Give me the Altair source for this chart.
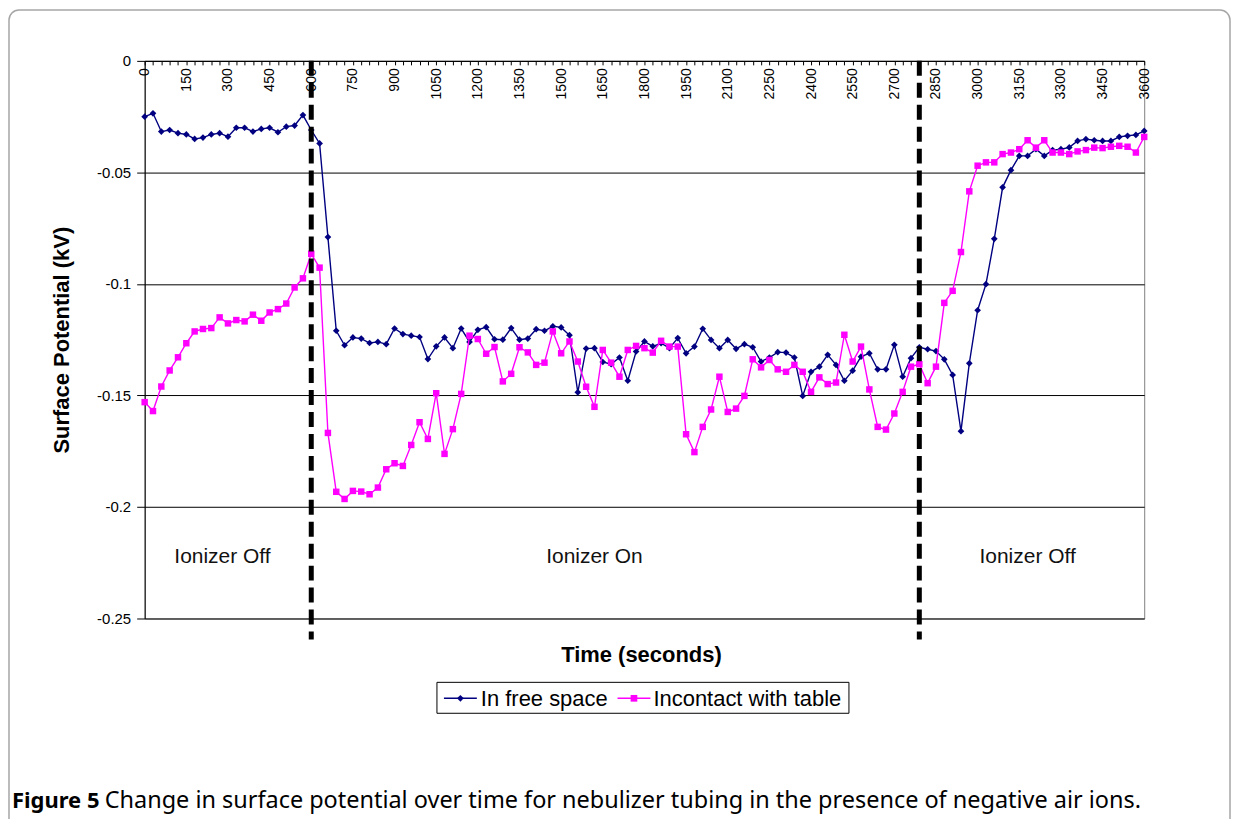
import altair as alt
import pandas as pd

# ---------------- data ----------------
times = list(range(0, 3601, 30))  # seconds (category positions every 30 s)

free_space = [
    -0.025, -0.0235, -0.0317, -0.031, -0.0324, -0.033, -0.035, -0.0344, -0.033, -0.0324,
    -0.034, -0.030, -0.030, -0.0317, -0.0305, -0.030, -0.032, -0.0295, -0.029, -0.0243,
    -0.031, -0.037, -0.079, -0.121, -0.1275, -0.124, -0.1245, -0.1265, -0.126, -0.127,
    -0.120, -0.1225, -0.1232, -0.1238, -0.1337, -0.128, -0.124, -0.1288, -0.120, -0.126,
    -0.1206, -0.1194, -0.1248, -0.125, -0.1198, -0.125, -0.1245, -0.1203, -0.121, -0.119,
    -0.1195, -0.123, -0.1486, -0.129, -0.1288, -0.135, -0.136, -0.133, -0.1434, -0.1303,
    -0.1258, -0.128, -0.1266, -0.1288, -0.1243, -0.1311, -0.1281, -0.1201, -0.1251, -0.1288,
    -0.1251, -0.1291, -0.127, -0.1284, -0.1348, -0.133, -0.1306, -0.1308, -0.133, -0.1502,
    -0.1394, -0.1371, -0.1318, -0.1363, -0.1434, -0.1389, -0.1326, -0.1311, -0.1383, -0.1383,
    -0.1273, -0.1416, -0.1333, -0.1284, -0.1293, -0.1301, -0.1338, -0.1408, -0.166, -0.1356,
    -0.1118, -0.1001, -0.0798, -0.0567, -0.049, -0.0426, -0.0426, -0.0396, -0.0426, -0.040,
    -0.0396, -0.0388, -0.0359, -0.0351, -0.0356, -0.0359, -0.0359, -0.0341, -0.0336, -0.0332,
    -0.0314,
]

contact_table = [
    -0.153, -0.157, -0.146, -0.1388, -0.1329, -0.1266, -0.1213, -0.1202, -0.1198, -0.115,
    -0.1177, -0.1162, -0.1168, -0.1138, -0.1165, -0.1128, -0.1113, -0.1088, -0.1016, -0.0975,
    -0.0865, -0.0927, -0.1668, -0.1932, -0.1964, -0.1928, -0.1931, -0.1943, -0.1913, -0.1831,
    -0.1804, -0.1816, -0.1722, -0.162, -0.1695, -0.149, -0.1762, -0.1651, -0.1493, -0.1232,
    -0.1247, -0.1313, -0.1283, -0.1437, -0.1403, -0.1284, -0.1307, -0.1363, -0.1353, -0.1213,
    -0.1311, -0.1258, -0.1348, -0.1461, -0.1551, -0.1296, -0.1353, -0.1416, -0.1296, -0.1278,
    -0.1288, -0.1308, -0.1255, -0.1281, -0.1281, -0.1674, -0.1754, -0.1641, -0.1563, -0.1416,
    -0.1574, -0.1559, -0.1502, -0.1338, -0.1374, -0.1341, -0.1383, -0.1394, -0.1363, -0.1394,
    -0.1484, -0.1419, -0.1449, -0.1442, -0.1228, -0.1348, -0.1281, -0.1473, -0.1641, -0.1653,
    -0.1581, -0.1484, -0.1371, -0.136, -0.1445, -0.1371, -0.1085, -0.1031, -0.0857, -0.0585,
    -0.047, -0.0455, -0.0455, -0.0418, -0.0411, -0.0396, -0.0356, -0.0389, -0.0356, -0.0411,
    -0.0411, -0.0418, -0.0406, -0.040, -0.0389, -0.0391, -0.0385, -0.0381, -0.0385, -0.0411,
    -0.0341,
]

series_names = ["In free space", "Incontact with table"]
series_colors = ["#000080", "#ff00ff"]
series_shapes = ["diamond", "square"]

ionizer_switch_times = [600, 2790]
region_labels = ["Ionizer Off", "Ionizer On", "Ionizer Off"]
region_label_t = [280, 1620, 3180]
region_label_v = [-0.2225, -0.2225, -0.2225]

y_ticks = [0, -0.05, -0.1, -0.15, -0.2, -0.25]
x_title = "Time (seconds)"
y_title = "Surface Potential (kV)"
caption_bold = "Figure 5"
caption_rest = "Change in surface potential over time for nebulizer tubing in the presence of negative air ions."

# ---------------- build ----------------
W, H = 1002, 559
FONT = "Liberation Sans"

df = pd.DataFrame({
    "t": times * 2,
    "v": free_space + contact_table,
    "series": [series_names[0]] * len(times) + [series_names[1]] * len(times),
})

x_scale = alt.Scale(domain=[0, 3600], nice=False, zero=False)
y_scale = alt.Scale(domain=[-0.25, 0], nice=False, zero=False)
color_scale = alt.Scale(domain=series_names, range=series_colors)
shape_scale = alt.Scale(domain=series_names, range=series_shapes)

x_axis = alt.Axis(
    orient="bottom", offset=-H, values=times, format="d",
    labelExpr="datum.value % 150 == 0 ? datum.label : ''",
    labelAngle=270, labelAlign="right", labelBaseline="middle",
    labelPadding=3, labelFont=FONT, labelFontSize=14, labelColor="black",
    labelOverlap=False, labelFlush=False, labelBound=False,
    tickSize=4, tickColor="black", domainColor="black", domainWidth=1,
    grid=False, title=None,
)
y_axis = alt.Axis(
    values=y_ticks,
    labelExpr="datum.value == 0 ? '0' : '-' + format(-datum.value, '~g')",
    labelFont=FONT, labelFontSize=15, labelColor="black", labelPadding=6,
    tickSize=8, tickColor="black", domainColor="black", domainWidth=1,
    grid=True, gridColor="black", gridWidth=1, gridOpacity=1,
    title=None,
)

X = alt.X("t:Q", scale=x_scale, axis=x_axis)
Y = alt.Y("v:Q", scale=y_scale, axis=y_axis)

base = alt.Chart(df).encode(
    x=X, y=Y,
    color=alt.Color("series:N", scale=color_scale, legend=None),
)

layers = []
for name, size in zip(series_names, [45, 42]):
    sub = base.transform_filter(alt.datum.series == name)
    layers.append(sub.mark_line(strokeWidth=1.4))
    layers.append(
        sub.mark_point(filled=True, opacity=1, size=size).encode(
            shape=alt.Shape("series:N", scale=shape_scale, legend=None)
        )
    )

dashes = alt.Chart(pd.DataFrame({"t": ionizer_switch_times})).mark_rule(
    color="black", strokeWidth=5, strokeDash=[15, 7]
).encode(
    x=X, y=alt.value(0), y2=alt.value(580),
)

regions = alt.Chart(pd.DataFrame({
    "t": region_label_t, "v": region_label_v, "label": region_labels
})).mark_text(font=FONT, fontSize=21, color="#111", align="center", baseline="middle").encode(
    x=X, y=Y, text="label:N",
)

one = pd.DataFrame({"k": [0]})

x_title_mark = alt.Chart(one).mark_text(
    text=x_title, font=FONT, fontSize=22, fontWeight="bold", color="black",
    align="center", baseline="middle"
).encode(x=alt.value(498), y=alt.value(596))

y_title_mark = alt.Chart(one).mark_text(
    text=y_title, font=FONT, fontSize=22, fontWeight="bold", color="black",
    align="center", baseline="middle", angle=270
).encode(x=alt.value(-83), y=alt.value(280))

# legend (custom, Excel-like)
leg_box = alt.Chart(one).mark_rect(fill="white", stroke="black", strokeWidth=1).encode(
    x=alt.value(293), x2=alt.value(706), y=alt.value(623), y2=alt.value(654)
)
leg_items = []
for name, col, shp, lx, tx in zip(series_names, series_colors, series_shapes,
                                  [300, 474], [337, 510]):
    leg_items.append(alt.Chart(one).mark_rule(color=col, strokeWidth=1.4).encode(
        x=alt.value(lx), x2=alt.value(lx + 33), y=alt.value(639)))
    leg_items.append(alt.Chart(one).mark_point(filled=True, opacity=1, color=col, shape=shp,
                                               size=45).encode(
        x=alt.value(lx + 16.5), y=alt.value(639)))
    leg_items.append(alt.Chart(one).mark_text(text=name, font=FONT, fontSize=22, color="black",
                                              align="left", baseline="middle").encode(
        x=alt.value(tx), y=alt.value(640)))

frame = alt.Chart(one).mark_rect(fill="transparent", stroke="#a6a6a6", strokeWidth=1.5,
                                 cornerRadius=10).encode(
    x=alt.value(-136), x2=alt.value(1088), y=alt.value(-51), y2=alt.value(820)
)

cap1 = alt.Chart(one).mark_text(text=caption_bold, font="Noto Sans", fontSize=22,
                                fontWeight="bold", color="black", align="left",
                                baseline="middle").encode(x=alt.value(-133), y=alt.value(742))
cap2 = alt.Chart(one).mark_text(text=caption_rest, font="Noto Sans", fontSize=23.5,
                                color="black", align="left",
                                baseline="middle").encode(x=alt.value(-40), y=alt.value(742))

chart = alt.layer(
    *layers, frame, dashes, regions, x_title_mark, y_title_mark, leg_box, *leg_items, cap1, cap2
).properties(
    width=W, height=H,
    autosize=alt.AutoSizeParams(type="none"),
    padding={"left": 137, "top": 52, "right": 90, "bottom": 200},
    background="white",
).configure_view(stroke="#808080", strokeWidth=1)

chart.save("out.html", embed_options={"renderer": "svg", "actions": False})
